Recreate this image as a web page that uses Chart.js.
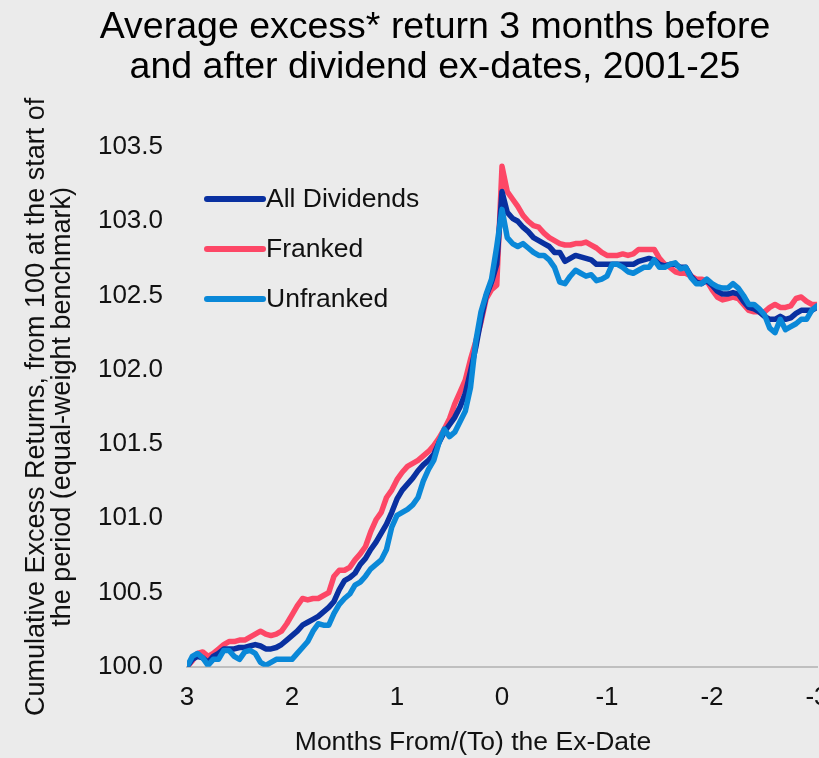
<!DOCTYPE html>
<html>
<head>
<meta charset="utf-8">
<script src="https://cdn.jsdelivr.net/npm/chart.js@4.4.1/dist/chart.umd.min.js"></script>
<style>
    html, body { margin: 0; padding: 0; background: #ebebeb; overflow: hidden; }
    #wrap { width: 819px; height: 758px; overflow: hidden; position: relative; }
    canvas { display: block; }
</style>
</head>
<body>
<div id="wrap"><canvas id="chart" width="870" height="758"></canvas></div>
<script>
// months from (positive) / to (negative) the ex-date
const monthsFrom = [
    3.00, 2.95, 2.90, 2.85, 2.80, 2.75, 2.70, 2.65, 2.60, 2.55,
    2.50, 2.45, 2.40, 2.35, 2.30, 2.25, 2.20, 2.15, 2.10, 2.05,
    2.00, 1.95, 1.90, 1.85, 1.80, 1.75, 1.70, 1.65, 1.60, 1.55,
    1.50, 1.45, 1.40, 1.35, 1.30, 1.25, 1.20, 1.15, 1.10, 1.05,
    1.00, 0.95, 0.90, 0.85, 0.80, 0.75, 0.70, 0.65, 0.60, 0.55,
    0.50, 0.45, 0.40, 0.35, 0.30, 0.25, 0.20, 0.15, 0.10, 0.05,
    0.00, -0.05, -0.10, -0.15, -0.20, -0.25, -0.30, -0.35, -0.40, -0.45,
    -0.50, -0.55, -0.60, -0.65, -0.70, -0.75, -0.80, -0.85, -0.90, -0.95,
    -1.00, -1.05, -1.10, -1.15, -1.20, -1.25, -1.30, -1.35, -1.40, -1.45,
    -1.50, -1.55, -1.60, -1.65, -1.70, -1.75, -1.80, -1.85, -1.90, -1.95,
    -2.00, -2.05, -2.10, -2.15, -2.20, -2.25, -2.30, -2.35, -2.40, -2.45,
    -2.50, -2.55, -2.60, -2.65, -2.70, -2.75, -2.80, -2.85, -2.90, -2.95, -3.00
];

// All Dividends
const allDividends = [
    100.00, 100.05, 100.07, 100.06, 100.03, 100.07, 100.09, 100.12, 100.12, 100.12,
    100.13, 100.13, 100.14, 100.15, 100.14, 100.12, 100.12, 100.13, 100.15, 100.18,
    100.21, 100.24, 100.28, 100.30, 100.32, 100.34, 100.37, 100.40, 100.44, 100.52,
    100.58, 100.60, 100.63, 100.69, 100.73, 100.79, 100.84, 100.90, 100.96, 101.04,
    101.13, 101.19, 101.23, 101.27, 101.32, 101.36, 101.39, 101.43, 101.51, 101.58,
    101.63, 101.68, 101.75, 101.84, 101.99, 102.15, 102.34, 102.50, 102.59, 102.71,
    103.20, 103.06, 103.02, 103.00, 102.96, 102.93, 102.89, 102.87, 102.85, 102.83,
    102.79, 102.79, 102.73, 102.75, 102.77, 102.76, 102.75, 102.74, 102.71, 102.71,
    102.71, 102.71, 102.71, 102.71, 102.71, 102.71, 102.73, 102.74, 102.75, 102.74,
    102.71, 102.70, 102.71, 102.71, 102.69, 102.69, 102.63, 102.59, 102.58, 102.60,
    102.57, 102.53, 102.51, 102.51, 102.52, 102.51, 102.46, 102.42, 102.41, 102.39,
    102.36, 102.34, 102.34, 102.36, 102.34, 102.35, 102.38, 102.40, 102.40, 102.40, 102.42
];

// Franked
const franked = [
    100.00, 100.04, 100.09, 100.10, 100.07, 100.09, 100.12, 100.15, 100.17, 100.17,
    100.18, 100.18, 100.20, 100.22, 100.24, 100.22, 100.21, 100.22, 100.24, 100.29,
    100.35, 100.41, 100.46, 100.45, 100.46, 100.46, 100.48, 100.50, 100.61, 100.65,
    100.65, 100.67, 100.72, 100.76, 100.81, 100.91, 100.99, 101.04, 101.14, 101.19,
    101.26, 101.31, 101.35, 101.37, 101.39, 101.42, 101.45, 101.49, 101.54, 101.60,
    101.67, 101.77, 101.85, 101.93, 102.07, 102.19, 102.32, 102.48, 102.54, 102.57,
    103.37, 103.20, 103.15, 103.10, 103.04, 103.00, 102.97, 102.96, 102.92, 102.89,
    102.87, 102.85, 102.84, 102.84, 102.85, 102.85, 102.86, 102.84, 102.82, 102.79,
    102.77, 102.77, 102.77, 102.78, 102.77, 102.78, 102.81, 102.81, 102.81, 102.81,
    102.75, 102.71, 102.69, 102.66, 102.65, 102.65, 102.63, 102.61, 102.61, 102.60,
    102.54, 102.49, 102.47, 102.48, 102.49, 102.48, 102.44, 102.40, 102.39, 102.39,
    102.39, 102.42, 102.44, 102.42, 102.42, 102.43, 102.48, 102.49, 102.46, 102.44, 102.44
];

// Unfranked
const unfranked = [
    100.00, 100.07, 100.09, 100.06, 100.01, 100.05, 100.05, 100.11, 100.11, 100.07,
    100.05, 100.10, 100.11, 100.09, 100.03, 100.01, 100.03, 100.05, 100.05, 100.05,
    100.05, 100.09, 100.13, 100.17, 100.24, 100.29, 100.28, 100.28, 100.36, 100.42,
    100.46, 100.49, 100.55, 100.57, 100.61, 100.66, 100.69, 100.72, 100.79, 100.94,
    101.02, 101.04, 101.06, 101.09, 101.14, 101.25, 101.33, 101.39, 101.51, 101.60,
    101.55, 101.58, 101.65, 101.72, 101.88, 102.19, 102.39, 102.51, 102.61, 102.83,
    103.08, 102.89, 102.85, 102.83, 102.85, 102.82, 102.79, 102.77, 102.77, 102.74,
    102.69, 102.59, 102.58, 102.63, 102.67, 102.65, 102.63, 102.64, 102.60, 102.61,
    102.63, 102.71, 102.71, 102.69, 102.66, 102.65, 102.67, 102.69, 102.69, 102.74,
    102.69, 102.69, 102.71, 102.72, 102.68, 102.69, 102.62, 102.58, 102.58, 102.61,
    102.58, 102.56, 102.55, 102.55, 102.58, 102.55, 102.50, 102.44, 102.44, 102.41,
    102.37, 102.28, 102.25, 102.34, 102.27, 102.29, 102.31, 102.34, 102.34, 102.40, 102.43
];

const seriesNames = ['All Dividends', 'Franked', 'Unfranked'];
const seriesColors = ['#0930a0', '#fd4766', '#0a88d8'];
const yTicks = [100.0, 100.5, 101.0, 101.5, 102.0, 102.5, 103.0, 103.5];
const xTicks = [3, 2, 1, 0, -1, -2, -3];
const titleLines = ['Average excess* return 3 months before', 'and after dividend ex-dates, 2001-25'];
const xTitle = 'Months From/(To) the Ex-Date';
const yTitle = ['Cumulative Excess Returns, from 100 at the start of', 'the period (equal-weight benchmark)'];

const FONT = "'Liberation Sans', Arial, Helvetica, sans-serif";
Chart.defaults.font.family = FONT;
Chart.defaults.color = '#111';

function toPoints(values) {
    return values.map((v, i) => ({ x: monthsFrom[i], y: v }));
}

// title, x-axis title and the stacked legend drawn on the canvas
const extraText = {
    id: 'extraText',
    afterDatasetsDraw(chart) {
        const { ctx, chartArea } = chart;
        ctx.save();

        // chart title
        ctx.fillStyle = '#000';
        ctx.textAlign = 'center';
        ctx.textBaseline = 'middle';
        ctx.font = '37.5px ' + FONT;
        titleLines.forEach((line, i) => ctx.fillText(line, 435, 28 + i * 40));

        // x axis title
        ctx.fillStyle = '#111';
        ctx.font = '26.5px ' + FONT;
        ctx.fillText(xTitle, 473, 743);

        // legend
        ctx.textAlign = 'left';
        seriesNames.forEach((name, i) => {
            const y = chartArea.top + 52 + i * 50;
            const x0 = chartArea.left + 20;
            ctx.strokeStyle = seriesColors[i];
            ctx.lineWidth = 6;
            ctx.lineCap = 'round';
            ctx.beginPath();
            ctx.moveTo(x0, y);
            ctx.lineTo(x0 + 56, y);
            ctx.stroke();
            ctx.fillStyle = '#111';
            ctx.fillText(name, x0 + 59, y + 1);
        });
        ctx.restore();
    }
};

const drawOrder = [1, 2, 0]; // unfranked on top

new Chart(document.getElementById('chart'), {
    type: 'line',
    data: {
        datasets: [allDividends, franked, unfranked].map((vals, i) => ({
            label: seriesNames[i],
            data: toPoints(vals),
            borderColor: seriesColors[i],
            backgroundColor: seriesColors[i],
            borderWidth: 5.5,
            pointRadius: 0,
            tension: 0,
            borderJoinStyle: 'round',
            borderCapStyle: 'round',
            order: drawOrder[i]
        }))
    },
    options: {
        responsive: false,
        animation: false,
        devicePixelRatio: 1,
        layout: { padding: { left: 0, right: 53, top: 147, bottom: 30 } },
        plugins: {
            legend: { display: false },
            tooltip: { enabled: false },
            title: { display: false }
        },
        scales: {
            x: {
                type: 'linear',
                reverse: true,
                min: -3,
                max: 3,
                afterBuildTicks: s => { s.ticks = xTicks.map(v => ({ value: v })); },
                ticks: { font: { size: 26 }, padding: 15, maxRotation: 0 },
                grid: { display: false, drawTicks: false },
                border: { display: true, color: '#bfbfbf', width: 2 },
                title: { display: false }
            },
            y: {
                min: 100,
                max: 103.5,
                afterBuildTicks: s => { s.ticks = yTicks.map(v => ({ value: v })); },
                ticks: { font: { size: 26 }, padding: 24, callback: v => v.toFixed(1) },
                grid: { display: false, drawTicks: false },
                border: { display: false },
                title: {
                    display: true,
                    text: yTitle,
                    font: { size: 27, lineHeight: 0.963 },
                    padding: { top: 24, bottom: 0 }
                },
                afterFit: s => { s.width = 187; }
            }
        }
    },
    plugins: [extraText]
});
</script>
</body>
</html>
